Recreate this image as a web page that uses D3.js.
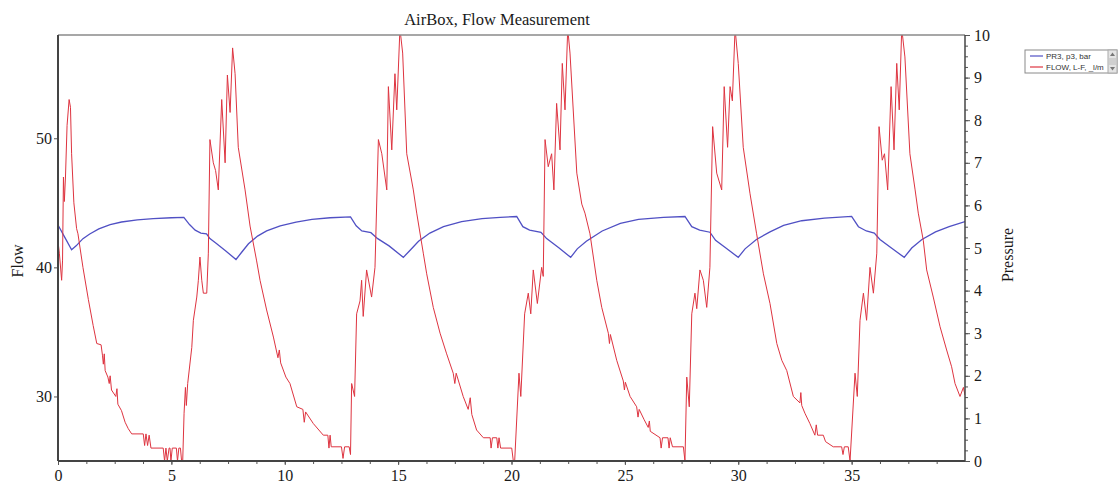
<!DOCTYPE html>
<html>
<head>
<meta charset="utf-8">
<script src="https://cdn.jsdelivr.net/npm/d3@7"></script>
<style>
  body { margin: 0; background: #fff; }
  text { font-family: "Liberation Serif", "DejaVu Serif", serif; }
</style>
</head>
<body>
<div id="chart"></div>
<script>
var margin = {top: 35, right: 153, bottom: 22, left: 58 }, // dimensiones
    chartWidth = 1118,
    chartHeight = 483,
    width = chartWidth - margin.left - margin.right,
    height = chartHeight - margin.top - margin.bottom;

// datos: [tiempo, valor]
var titulo = "AirBox, Flow Measurement",
    nombreFlujo = "FLOW, L-F, _l/m",
    nombrePresion = "PR3, p3, bar",
    ticksX = [0, 5, 10, 15, 20, 25, 30, 35],
    ticksFlujo = [30, 40, 50],
    ticksPresion = [0, 1, 2, 3, 4, 5, 6, 7, 8, 9, 10],
    dominioX = [0, 40],
    dominioFlujo = [25, 58],
    dominioPresion = [0, 10];

var flujo = [
  [0.00,42.0],[0.06,41.1],[0.16,39.0],[0.20,40.5],[0.24,47.0],[0.28,45.1],[0.33,47.0],[0.40,51.0],[0.49,53.0],[0.55,52.4],
  [0.60,48.8],[0.70,45.0],[0.82,43.0],[0.88,42.6],[1.10,40.0],[1.34,37.5],[1.55,35.5],[1.71,34.1],[1.90,34.0],[1.96,33.2],
  [2.00,32.5],[2.04,33.3],[2.08,32.0],[2.20,31.5],[2.26,31.0],[2.30,31.6],[2.36,30.5],[2.55,30.0],[2.60,30.6],[2.64,29.4],
  [2.80,28.9],[2.96,28.0],[3.10,27.5],[3.25,27.1],[3.76,27.1],[3.82,26.2],[3.88,27.1],[3.95,26.2],[4.02,27.0],[4.10,26.0],
  [4.64,26.0],[4.70,25.0],[4.76,26.0],[4.82,25.0],[4.90,26.0],[4.94,26.0],[4.98,25.0],[5.04,26.0],[5.22,26.0],[5.27,25.0],
  [5.33,26.0],[5.40,26.0],[5.45,25.0],[5.50,25.0],
  [5.56,28.7],[5.62,30.7],[5.66,29.3],[5.72,31.0],[5.90,33.8],[5.97,35.9],[6.12,37.7],[6.19,39.0],[6.26,40.8],[6.34,39.0],
  [6.41,38.0],[6.56,38.0],[6.63,41.1],[6.70,49.9],[6.85,48.1],[6.95,47.5],[7.07,46.0],[7.22,53.0],[7.37,48.1],[7.47,54.9],
  [7.59,52.0],[7.70,57.0],[7.81,55.0],[7.95,49.3],[8.25,46.0],[8.47,43.2],[8.76,40.5],[8.91,39.0],[9.20,36.7],[9.50,34.6],
  [9.70,33.0],[9.76,33.6],[9.82,32.6],[10.05,31.5],[10.23,31.0],[10.53,29.2],[10.80,29.0],[10.86,28.0],[10.92,28.8],[11.26,27.9],
  [11.70,27.0],[11.90,27.0],[11.95,26.0],[12.00,27.0],[12.05,26.1],[12.50,26.1],[12.57,25.2],[12.64,26.1],[12.84,26.1],[12.90,25.5],
  [12.95,31.0],[13.08,30.0],[13.17,36.4],[13.32,37.4],[13.39,39.0],[13.46,36.2],[13.61,39.8],[13.83,37.7],[13.98,40.0],[14.13,49.9],
  [14.28,48.8],[14.50,46.0],[14.57,54.0],[14.72,49.1],[14.86,55.0],[14.94,52.2],[15.08,58.5],[15.20,56.6],[15.38,48.8],[15.67,46.0],
  [15.82,44.2],[16.11,41.1],[16.26,39.5],[16.55,36.9],[16.85,34.9],[17.14,33.3],[17.43,31.8],[17.50,31.0],[17.56,31.8],[17.87,30.0],
  [18.09,29.0],[18.18,29.9],[18.25,28.6],[18.46,27.4],[18.76,26.8],[19.06,26.8],[19.10,26.0],[19.16,26.8],[19.35,26.8],[19.40,26.0],
  [19.45,26.8],[19.52,26.0],[20.01,26.0],[20.08,25.0],[20.14,25.0],
  [20.33,31.8],[20.41,30.0],[20.58,36.4],[20.74,38.0],[20.85,36.4],[20.96,39.8],[21.14,37.2],[21.33,40.0],[21.40,39.3],[21.48,49.9],
  [21.62,47.8],[21.77,48.8],[21.87,46.0],[21.99,52.7],[22.14,49.1],[22.24,55.8],[22.36,52.2],[22.48,58.5],[22.58,56.6],[22.88,47.3],
  [23.10,44.9],[23.24,44.2],[23.46,42.6],[23.76,39.0],[23.98,36.9],[24.27,34.9],[24.32,34.1],[24.36,34.8],[24.64,32.8],[24.93,31.2],
  [24.98,30.5],[25.02,31.1],[25.23,30.0],[25.52,29.2],[25.58,28.4],[25.63,29.0],[25.85,28.2],[26.03,27.6],[26.08,28.1],[26.12,27.3],
  [26.55,26.8],[26.60,26.0],[26.66,26.8],[26.90,26.8],[26.95,26.0],[27.00,26.8],[27.10,26.1],[27.58,26.1],[27.65,25.0],
  [27.73,31.5],[27.84,29.2],[27.95,36.4],[28.09,38.0],[28.17,36.8],[28.31,39.8],[28.46,39.0],[28.61,36.9],[28.75,40.0],[28.87,50.9],
  [29.05,47.3],[29.27,46.0],[29.38,54.0],[29.53,49.3],[29.64,54.0],[29.74,52.9],[29.86,58.5],[30.00,55.8],[30.22,49.3],[30.52,45.7],
  [30.81,42.6],[31.11,39.5],[31.40,37.2],[31.70,34.1],[31.92,32.8],[32.14,32.0],[32.43,30.0],[32.72,29.5],[32.76,30.3],[32.80,29.3],
  [32.94,28.7],[33.16,27.9],[33.38,27.0],[33.44,27.8],[33.50,27.0],[33.75,27.0],[33.85,26.5],[34.19,26.1],[34.56,26.1],[34.62,25.5],
  [34.68,26.1],[34.85,26.1],[34.93,25.0],
  [35.15,31.8],[35.25,30.0],[35.37,35.9],[35.52,38.0],[35.66,35.9],[35.81,40.0],[35.96,38.0],[36.11,41.1],[36.21,50.9],[36.35,48.3],
  [36.45,48.8],[36.59,46.0],[36.74,54.0],[36.87,49.1],[36.99,55.8],[37.10,52.2],[37.21,58.5],[37.35,56.3],[37.57,48.8],[37.80,46.0],
  [37.94,44.2],[38.16,42.1],[38.31,39.8],[38.60,37.7],[38.90,35.4],[39.19,33.6],[39.41,32.3],[39.56,31.0],[39.78,30.0],[39.93,30.7],
  [40.00,30.1]
];

var presion = [
  [0.00,5.54],[0.30,5.25],[0.60,4.96],[0.80,5.05],[1.10,5.22],[1.40,5.33],[1.80,5.45],[2.30,5.55],[2.80,5.61],[3.50,5.66],
  [4.20,5.69],[5.00,5.71],[5.55,5.72],[5.80,5.55],[6.05,5.42],[6.30,5.35],[6.55,5.33],[6.70,5.22],[7.00,5.10],[7.40,4.93],
  [7.85,4.73],[8.10,4.90],[8.40,5.10],[8.80,5.28],[9.20,5.40],[9.80,5.52],[10.50,5.61],[11.20,5.67],[12.00,5.71],[12.90,5.73],
  [13.15,5.52],[13.40,5.40],[13.80,5.36],[14.10,5.22],[14.60,5.05],[15.23,4.78],[15.55,4.96],[15.90,5.16],[16.40,5.35],[17.00,5.50],
  [17.80,5.62],[18.70,5.69],[19.50,5.72],[20.23,5.74],[20.50,5.50],[20.80,5.42],[21.30,5.37],[21.55,5.22],[22.10,5.00],[22.61,4.78],
  [22.90,4.98],[23.30,5.16],[24.00,5.40],[24.80,5.58],[25.60,5.67],[26.70,5.72],[27.65,5.74],[27.95,5.50],[28.30,5.42],[28.75,5.37],
  [29.00,5.18],[29.50,4.98],[30.00,4.78],[30.30,4.98],[30.80,5.20],[31.40,5.38],[32.00,5.53],[32.80,5.64],[33.80,5.70],[35.00,5.74],
  [35.30,5.50],[35.65,5.40],[36.00,5.35],[36.25,5.20],[36.80,4.98],[37.32,4.78],[37.65,5.00],[38.10,5.20],[38.70,5.38],[39.30,5.50],
  [40.00,5.62]
];

var colorFlujo = "#de3440",
    colorPresion = "#5050c4";

var svg = d3.select("#chart") // generamos el svg
            .append("svg")
            .attr("width", chartWidth)
            .attr("height", chartHeight);

var g = svg.append("g")
           .attr("transform", "translate(" + margin.left + "," + margin.top + ")");

// escalas
var xScale = d3.scaleLinear().domain(dominioX).range([0, width]),
    yFlujo = d3.scaleLinear().domain(dominioFlujo).range([height, 0]),
    yPresion = d3.scaleLinear().domain(dominioPresion).range([height, 0]);

// recorte del area de dibujo
g.append("clipPath")
 .attr("id", "recorte")
 .append("rect")
 .attr("width", width)
 .attr("height", height);

// ejes
var ejeX = d3.axisBottom(xScale).tickValues(ticksX).tickSize(4).tickPadding(5),
    ejeXMenor = d3.axisBottom(xScale).tickValues(d3.range(0, 40, 1.25)).tickSize(3).tickFormat(""),
    ejeFlujo = d3.axisLeft(yFlujo).tickValues(ticksFlujo).tickSize(4).tickPadding(2),
    ejePresion = d3.axisRight(yPresion).tickValues(ticksPresion).tickSize(5).tickPadding(4),
    ejePresionMenor = d3.axisRight(yPresion).tickValues(d3.range(0, 10, 0.25)).tickSize(3).tickFormat("");

g.append("g").attr("class", "eje").attr("transform", "translate(0," + height + ")").call(ejeXMenor);
g.append("g").attr("class", "eje").attr("transform", "translate(0," + height + ")").call(ejeX);
g.append("g").attr("class", "eje").call(ejeFlujo);
g.append("g").attr("class", "eje").attr("transform", "translate(" + width + ",0)").call(ejePresionMenor);
g.append("g").attr("class", "eje").attr("transform", "translate(" + width + ",0)").call(ejePresion);

g.selectAll(".eje .domain").remove();
g.selectAll(".eje line").attr("stroke", "#555");
g.selectAll(".eje text")
 .attr("fill", "#1a1a1a")
 .style("font-size", "16px")
 .style("font-family", "'Liberation Serif', serif");

// lineas
var lineaFlujo = d3.line().x(d => xScale(d[0])).y(d => yFlujo(d[1])),
    lineaPresion = d3.line().x(d => xScale(d[0])).y(d => yPresion(d[1]));

g.append("path")
 .datum(presion)
 .attr("clip-path", "url(#recorte)")
 .attr("fill", "none")
 .attr("stroke", colorPresion)
 .attr("stroke-width", 1.3)
 .attr("d", lineaPresion);

g.append("path")
 .datum(flujo)
 .attr("clip-path", "url(#recorte)")
 .attr("fill", "none")
 .attr("stroke", colorFlujo)
 .attr("stroke-width", 1)
 .attr("stroke-linejoin", "round")
 .attr("d", lineaFlujo);

// marco del grafico
g.append("line").attr("x1", 0).attr("x2", width).attr("y1", 0).attr("y2", 0)
 .attr("stroke", "#8a8a8a").attr("stroke-width", 1.5);
g.append("line").attr("x1", 0).attr("x2", 0).attr("y1", 0).attr("y2", height)
 .attr("stroke", "#444").attr("stroke-width", 2);
g.append("line").attr("x1", 0).attr("x2", width).attr("y1", height).attr("y2", height)
 .attr("stroke", "#444").attr("stroke-width", 2);
g.append("line").attr("x1", width).attr("x2", width).attr("y1", 0).attr("y2", height)
 .attr("stroke", "#444").attr("stroke-width", 1.5);

// titulos
svg.append("text")
   .attr("x", 497)
   .attr("y", 25)
   .attr("text-anchor", "middle")
   .style("font-size", "16.5px")
   .attr("fill", "#1a1a1a")
   .text(titulo);

svg.append("text")
   .attr("transform", "translate(23,261) rotate(-90)")
   .attr("text-anchor", "middle")
   .style("font-size", "16px")
   .attr("fill", "#1a1a1a")
   .text("Flow");

svg.append("text")
   .attr("transform", "translate(1013,255) rotate(-90)")
   .attr("text-anchor", "middle")
   .style("font-size", "16px")
   .attr("fill", "#1a1a1a")
   .text("Pressure");

// leyenda
var leyenda = svg.append("g").attr("transform", "translate(1025,50)");

leyenda.append("rect")
       .attr("width", 92).attr("height", 23)
       .attr("fill", "#fff").attr("stroke", "#8a8a8a");

var series = [[nombrePresion, colorPresion], [nombreFlujo, colorFlujo]];

series.forEach(function(s, i) {
    var yy = 6 + i * 11;
    leyenda.append("line")
           .attr("x1", 5).attr("x2", 18).attr("y1", yy).attr("y2", yy)
           .attr("stroke", s[1]).attr("stroke-width", 1.2);
    leyenda.append("text")
           .attr("x", 21).attr("y", yy + 3)
           .style("font-family", "'Liberation Sans', Arial, sans-serif")
           .style("font-size", "8px")
           .attr("fill", "#333")
           .text(s[0]);
});

// barra de desplazamiento
var barra = leyenda.append("g").attr("transform", "translate(83,0)");
barra.append("rect").attr("width", 9).attr("height", 23).attr("fill", "#e4e4e4").attr("stroke", "#aaa");
barra.append("rect").attr("x", 1).attr("y", 8).attr("width", 7).attr("height", 7).attr("fill", "#cfcfcf");
barra.append("path").attr("d", "M2,6 L4.5,2.5 L7,6 Z").attr("fill", "#777");
barra.append("path").attr("d", "M2,17 L4.5,20.5 L7,17 Z").attr("fill", "#777");
</script>
</body>
</html>
